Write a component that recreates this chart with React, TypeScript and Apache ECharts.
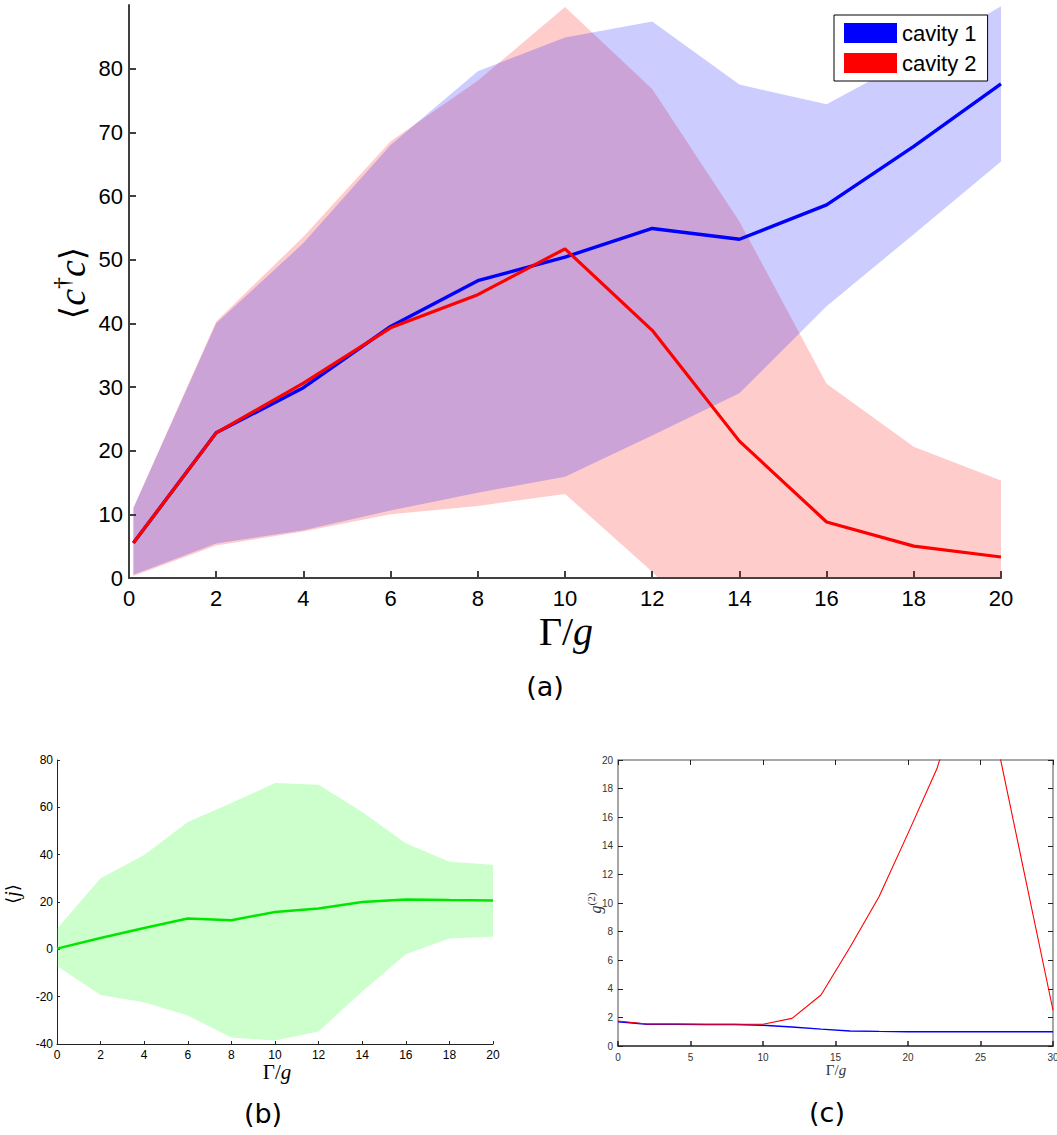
import React, { useEffect, useRef } from "react";
import * as echarts from "echarts";

// Panel (a): mean photon number of the two cavities with ±σ bands
const A_X = [0.1, 2, 4, 6, 8, 10, 12, 14, 16, 18, 20];
const CAV1_MEAN = [5.5, 22.8, 29.9, 39.5, 46.7, 50.4, 54.9, 53.2, 58.6, 67.8, 77.6];
const CAV1_UPPER = [11.0, 40.0, 52.6, 68.0, 79.6, 84.9, 87.4, 77.5, 74.4, 81.8, 89.8];
const CAV1_LOWER = [0.5, 5.4, 7.5, 10.6, 13.4, 15.9, 22.4, 29.0, 42.7, 54.0, 65.4];
const CAV2_MEAN = [5.5, 22.8, 30.6, 39.3, 44.5, 51.7, 38.9, 21.5, 8.8, 5.0, 3.3];
const CAV2_UPPER = [11.0, 40.3, 53.6, 68.6, 78.1, 89.7, 76.8, 56.0, 30.5, 20.6, 15.3];
const CAV2_LOWER = [0.3, 5.1, 7.3, 10.0, 11.3, 13.2, 1.0, -13.0, -12.9, -10.6, -8.7];
const A_Y_TICKS = [0, 10, 20, 30, 40, 50, 60, 70, 80];

// Panel (b): mean current with ±σ band
const B_X = [0, 2, 4, 6, 8, 10, 12, 14, 16, 18, 20];
const J_MEAN = [0.3, 4.8, 9.0, 13.0, 12.3, 15.8, 17.3, 20.0, 21.1, 20.8, 20.6];
const J_UPPER = [8.7, 30.0, 39.9, 53.8, 61.8, 70.3, 69.5, 58.0, 44.8, 37.0, 35.7];
const J_LOWER = [-7.0, -19.3, -22.4, -28.0, -37.3, -38.5, -34.7, -17.8, -2.1, 4.6, 5.3];

// Panel (c): second-order correlation of each cavity
const C_X = [0, 2, 4, 6, 8, 10, 12, 14, 16, 18, 20, 22, 24, 26, 28, 30];
const G2_CAV2 = [1.75, 1.54, 1.54, 1.52, 1.52, 1.52, 1.93, 3.57, 6.9, 10.44, 14.87, 19.4, 26.0, 21.9, 12.2, 2.5];
const G2_CAV1 = [1.7, 1.52, 1.52, 1.5, 1.5, 1.45, 1.33, 1.18, 1.05, 1.02, 1.0, 1.0, 1.0, 1.0, 1.0, 1.0];

const SANS = "Liberation Sans";
const SERIF = "Liberation Serif";

function band(
  xAxisIndex: number,
  yAxisIndex: number,
  xs: number[],
  lo: number[],
  hi: number[],
  fill: string
) {
  return {
    type: "custom",
    xAxisIndex,
    yAxisIndex,
    clip: true,
    silent: true,
    data: [0],
    renderItem: (_params: any, api: any) => {
      const pts: number[][] = [];
      for (let i = 0; i < xs.length; i++) pts.push(api.coord([xs[i], hi[i]]));
      for (let i = xs.length - 1; i >= 0; i--) pts.push(api.coord([xs[i], lo[i]]));
      return { type: "polygon", shape: { points: pts }, style: { fill } };
    },
  };
}

function line(
  name: string,
  xAxisIndex: number,
  yAxisIndex: number,
  xs: number[],
  ys: number[],
  color: string,
  width: number
) {
  return {
    name,
    type: "line",
    xAxisIndex,
    yAxisIndex,
    data: xs.map((x, i) => [x, ys[i]]),
    showSymbol: false,
    symbol: "none",
    clip: true,
    silent: true,
    itemStyle: { color },
    lineStyle: { color, width },
  };
}

function label(x: number, y: number, text: string, rich: any, rotation = 0) {
  return {
    type: "text",
    x,
    y,
    rotation,
    silent: true,
    style: { text, rich, textAlign: "center", textVerticalAlign: "middle" },
  };
}

export default function App() {
  const ref = useRef<HTMLDivElement>(null);

  useEffect(() => {
    if (!ref.current) return;
    const chart = echarts.init(ref.current, undefined, { renderer: "svg" });

    const axA = { color: "#404040", width: 2 };
    const axB = { color: "#222", width: 1 };
    const axCgray = { color: "#8a8a8a", width: 1.5 };
    const axCdark = { color: "#222", width: 1.5 };

    const option: any = {
      animation: false,
      backgroundColor: "#fff",
      grid: [
        { left: 129, top: 5, width: 872, height: 573, outerBoundsMode: "none" },
        { left: 57, top: 760, width: 436, height: 284, outerBoundsMode: "none" },
        { left: 618, top: 760, width: 435, height: 286, outerBoundsMode: "none" },
      ],
      xAxis: [
        {
          gridIndex: 0,
          type: "value",
          min: 0,
          max: 20,
          interval: 2,
          axisLine: { onZero: false, lineStyle: axA },
          axisTick: { inside: true, length: 7, lineStyle: axA },
          axisLabel: { fontSize: 22, fontFamily: SANS, color: "#000", margin: 9 },
          splitLine: { show: false },
        },
        {
          gridIndex: 1,
          type: "value",
          min: 0,
          max: 20,
          interval: 2,
          axisLine: { onZero: false, lineStyle: axB },
          axisTick: { inside: true, length: 3, lineStyle: axB },
          axisLabel: { fontSize: 12, fontFamily: SANS, color: "#000", margin: 5 },
          splitLine: { show: false },
        },
        {
          gridIndex: 2,
          type: "value",
          min: 0,
          max: 30,
          interval: 5,
          axisLine: { onZero: false, lineStyle: axCdark },
          axisTick: { inside: true, length: 5, lineStyle: axCdark },
          axisLabel: { fontSize: 10, fontFamily: SANS, color: "#333", margin: 6 },
          splitLine: { show: false },
        },
        {
          gridIndex: 2,
          type: "value",
          position: "top",
          min: 0,
          max: 30,
          interval: 5,
          axisLine: { onZero: false, lineStyle: axCgray },
          axisTick: { inside: true, length: 5, lineStyle: { color: "#222", width: 1 } },
          axisLabel: { show: false },
          splitLine: { show: false },
        },
      ],
      yAxis: [
        {
          gridIndex: 0,
          type: "value",
          min: 0,
          max: 90,
          interval: 10,
          axisLine: { show: true, onZero: false, lineStyle: axA },
          axisTick: { show: true, inside: true, length: 7, lineStyle: axA, customValues: A_Y_TICKS },
          axisLabel: { fontSize: 22, fontFamily: SANS, color: "#000", margin: 6, customValues: A_Y_TICKS },
          splitLine: { show: false },
        },
        {
          gridIndex: 1,
          type: "value",
          min: -40,
          max: 80,
          interval: 20,
          axisLine: { show: true, onZero: false, lineStyle: axB },
          axisTick: { show: true, inside: true, length: 3, lineStyle: axB },
          axisLabel: { fontSize: 12, fontFamily: SANS, color: "#000", margin: 4 },
          splitLine: { show: false },
        },
        {
          gridIndex: 2,
          type: "value",
          min: 0,
          max: 20,
          interval: 2,
          axisLine: { show: true, onZero: false, lineStyle: axCgray },
          axisTick: { show: true, inside: true, length: 5, lineStyle: { color: "#222", width: 1 } },
          axisLabel: { fontSize: 10, fontFamily: SANS, color: "#333", margin: 5 },
          splitLine: { show: false },
        },
        {
          gridIndex: 2,
          type: "value",
          position: "right",
          min: 0,
          max: 20,
          interval: 2,
          axisLine: { show: true, onZero: false, lineStyle: axCgray },
          axisTick: { show: true, inside: true, length: 5, lineStyle: { color: "#222", width: 1 } },
          axisLabel: { show: false },
          splitLine: { show: false },
        },
      ],
      legend: {
        data: ["cavity 1", "cavity 2"],
        orient: "vertical",
        left: 834,
        top: 15,
        icon: "rect",
        itemWidth: 53,
        itemHeight: 20,
        itemGap: 8,
        padding: [7, 11, 7, 10],
        borderColor: "#000",
        borderWidth: 1,
        backgroundColor: "#fff",
        selectedMode: false,
        textStyle: { fontSize: 22, fontFamily: SANS, color: "#000" },
      },
      series: [
        band(0, 0, A_X, CAV2_LOWER, CAV2_UPPER, "rgba(255,0,0,0.2)"),
        band(0, 0, A_X, CAV1_LOWER, CAV1_UPPER, "rgba(0,0,255,0.2)"),
        line("cavity 1", 0, 0, A_X, CAV1_MEAN, "#0000ff", 3.4),
        line("cavity 2", 0, 0, A_X, CAV2_MEAN, "#ff0000", 3.2),
        band(1, 1, B_X, J_LOWER, J_UPPER, "rgba(0,255,0,0.2)"),
        line("current", 1, 1, B_X, J_MEAN, "#00e600", 2.5),
        line("g2 cavity 1", 2, 2, C_X, G2_CAV1, "#0000ff", 1.4),
        line("g2 cavity 2", 2, 2, C_X, G2_CAV2, "#ff0000", 1.1),
      ],
      graphic: [
        label(
          72,
          283,
          "{b|⟨}{i|c}{s|†}{i|c}{b|⟩}",
          {
            b: { fontFamily: "DejaVu Serif", fontSize: 34, fill: "#000", lineHeight: 44 },
            i: { fontFamily: SERIF, fontStyle: "italic", fontSize: 38, fill: "#000", lineHeight: 44 },
            s: { fontFamily: SERIF, fontSize: 24, fill: "#000", verticalAlign: "top", lineHeight: 30 },
          },
          Math.PI / 2
        ),
        label(566, 631, "{r|Γ/}{i|g}", {
          r: { fontFamily: SERIF, fontSize: 40, fill: "#000", lineHeight: 30 },
          i: { fontFamily: SERIF, fontStyle: "italic", fontSize: 40, fill: "#000", lineHeight: 30 },
        }),
        label(545, 686, "{t|(a)}", { t: { fontFamily: "DejaVu Sans", fontSize: 27, fill: "#000" } }),
        label(
          12,
          894,
          "{b|⟨}{i|j}{b|⟩}",
          {
            b: { fontFamily: "DejaVu Serif", fontSize: 18, fill: "#000" },
            i: { fontFamily: SERIF, fontStyle: "italic", fontSize: 20, fill: "#000" },
          },
          Math.PI / 2
        ),
        label(277, 1072, "{r|Γ/}{i|g}", {
          r: { fontFamily: SERIF, fontSize: 21, fill: "#000", lineHeight: 13 },
          i: { fontFamily: SERIF, fontStyle: "italic", fontSize: 21, fill: "#000", lineHeight: 13 },
        }),
        label(263, 1113, "{t|(b)}", { t: { fontFamily: "DejaVu Sans", fontSize: 27, fill: "#000" } }),
        label(
          595,
          903,
          "{i|g}{s|(2)}",
          {
            i: { fontFamily: SERIF, fontStyle: "italic", fontSize: 16, fill: "#333", lineHeight: 20 },
            s: { fontFamily: SERIF, fontSize: 11, fill: "#333", verticalAlign: "top", lineHeight: 14 },
          },
          Math.PI / 2
        ),
        label(836, 1070, "{r|Γ/}{i|g}", {
          r: { fontFamily: SERIF, fontSize: 15, fill: "#333", lineHeight: 12 },
          i: { fontFamily: SERIF, fontStyle: "italic", fontSize: 15, fill: "#333", lineHeight: 12 },
        }),
        label(827, 1112, "{t|(c)}", { t: { fontFamily: "DejaVu Sans", fontSize: 27, fill: "#000" } }),
      ],
    };

    chart.setOption(option);
    return () => chart.dispose();
  }, []);

  return (
    <div
      ref={ref}
      style={{ position: "fixed", left: 0, top: 0, width: 1057, height: 1135, background: "#fff" }}
    />
  );
}
